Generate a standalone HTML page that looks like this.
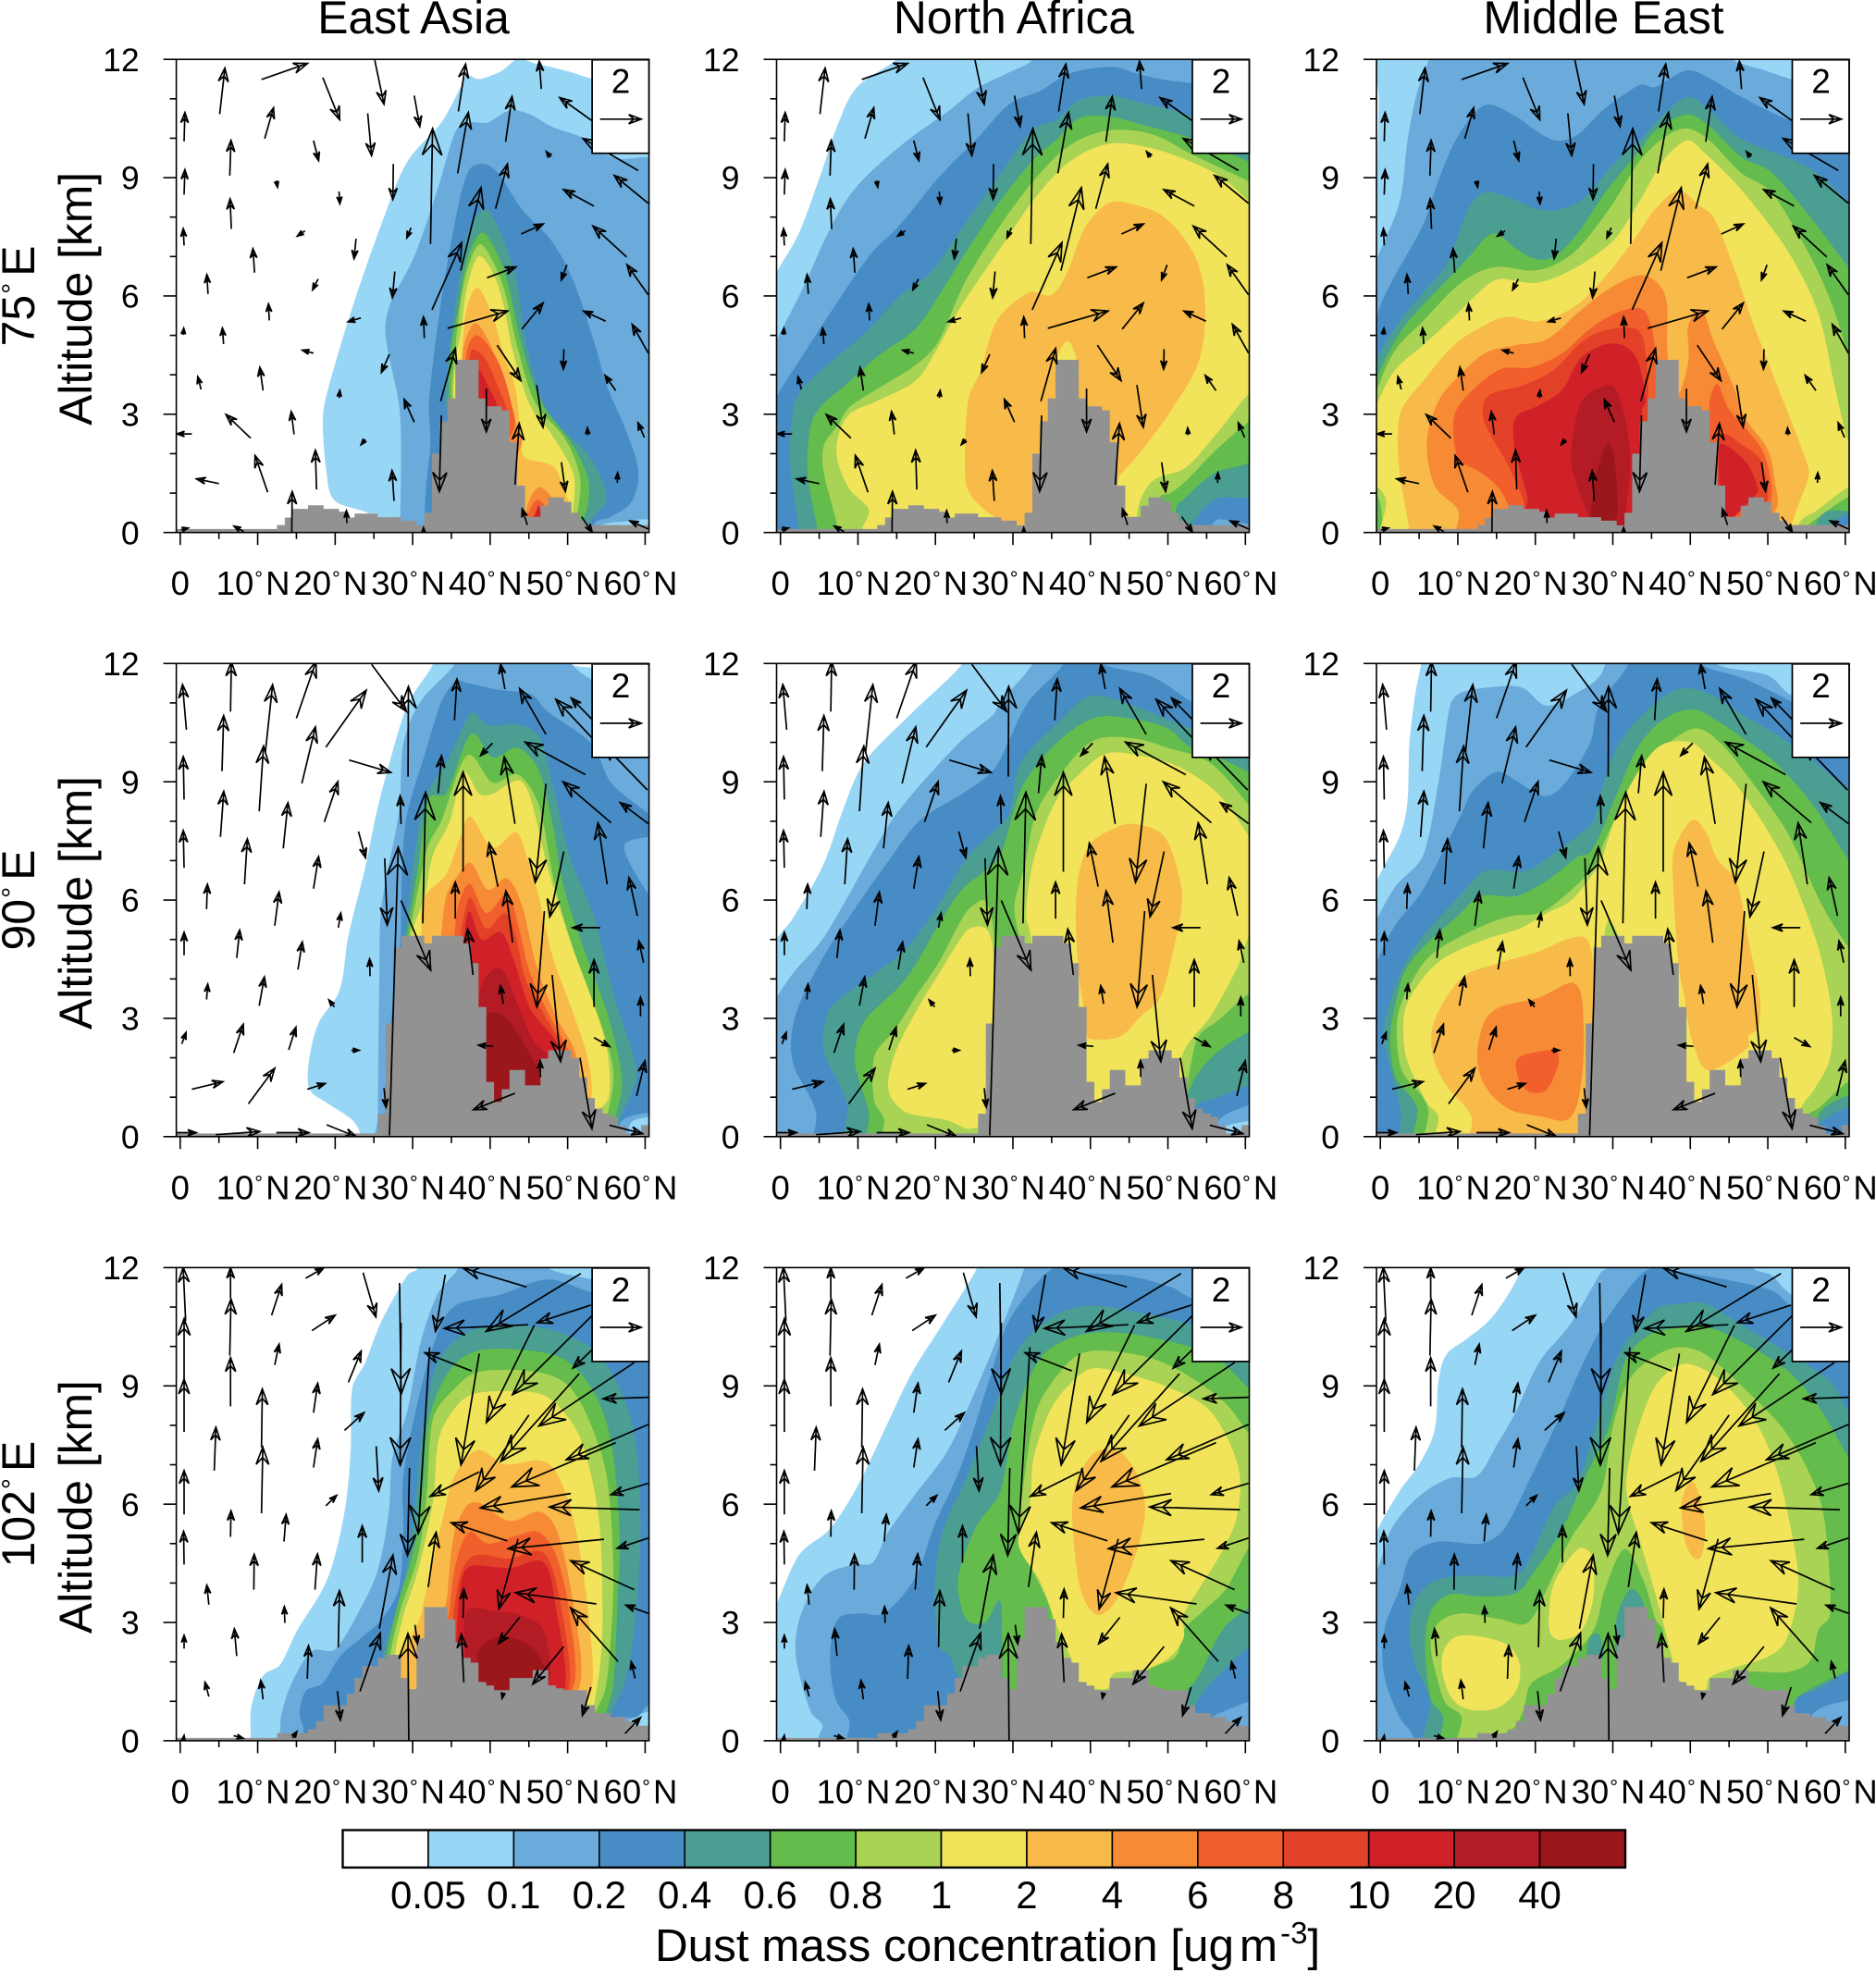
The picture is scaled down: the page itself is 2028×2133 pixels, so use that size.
<!DOCTYPE html>
<html lang="en">
<head>
<meta charset="utf-8">
<title>Dust mass concentration cross sections</title>
<style>
html,body{margin:0;padding:0;background:#fff;}
svg{display:block;font-family:"Liberation Sans",sans-serif;fill:#000;}
</style>
</head>
<body>
<svg id="chart" xmlns="http://www.w3.org/2000/svg" width="2028" height="2133" viewBox="0 0 2028 2133"></svg>
<script>
/* ---------- axis values ---------- */
const latTicks = [0,10,20,30,40,50,60];
const latMinorTicks = [5,15,25,35,45,55];
const latTickLabels = ['0','10°N','20°N','30°N','40°N','50°N','60°N'];
const altTicks = [0,3,6,9,12];
const altMinorTicks = [1,2,4,5,7,8,10,11];
const altTickLabels = ['0','3','6','9','12'];
const regionNames = ['East Asia','North Africa','Middle East'];
const sectionNames = ['75°E','90°E','102°E'];
const legendLabels = ['0.05','0.1','0.2','0.4','0.6','0.8','1','2','4','6','8','10','20','40'];
const legendColors = ['#ffffff','#98d6f5','#6aabdc','#488cc5','#4a9e92','#64bc4c','#a9d354','#f1e45a','#f8ba48','#f68a35','#f15f2c','#e34127','#d02128','#b41c25','#9c171c'];
const referenceWind = 2;

/* ---------- terrain height [km] per 1 degree latitude, 0..60 N ---------- */
const terrain75 = [.09,.09,.09,.09,.09,.09,.09,.09,.09,.09,.09,.09,.09,.19,.38,.6,.6,.69,.69,.6,.6,.53,.38,.48,.48,.48,.39,.39,.39,.3,.3,.18,.5,2,2.82,3.4,4.38,4.38,4.38,3.4,3.2,3.2,3.1,2.29,1.19,.4,.4,.68,.89,.89,.78,.5,.3,.19,.19,.19,.19,.19,.19,.19,.19];
const terrain90 = [.08,.08,.08,.08,.08,.08,.08,.08,.08,.08,.08,.08,.08,.08,.08,.08,.08,.08,.08,.08,.08,.08,.08,.08,.08,.08,.58,2.87,4.8,5.09,5.09,5.09,4.9,5.09,5.09,5.09,5.09,4.9,4.4,3.29,1.39,.88,1.2,1.69,1.69,1.3,1.3,1.98,2.19,2.19,2.19,1.99,1.5,.98,.71,.59,.5,.27,.08,.08,.29];
const terrain102 = [.07,.07,.07,.07,.07,.07,.07,.07,.07,.07,.07,.07,.07,.19,.19,.19,.19,.29,.5,.9,.9,.9,1.19,1.59,1.89,1.89,2.1,2.18,2.18,1.59,1.31,2.6,3.39,3.39,3.39,3.08,2.5,2.1,1.98,1.49,1.4,1.28,1.28,1.59,1.59,1.59,1.79,1.79,1.4,1.33,1.28,1.28,1.28,.9,.7,.7,.6,.6,.5,.38,.38];

/* ---------- wind vectors: tail latitude, tail altitude, u, w ---------- */
const wind75Lat = [.5,.5,.5,.4,2.7,1.5,5,.1,5.1,6.4,6.6,3.6,5.6,10.7,9.1,11.3,8.2,10.5,10.9,12.4,9.6,11.5,17.2,14.7,17.6,14.4,18.4,17.2,20.5,16.1,17.8,23.3,20.5,23.9,21.5,25.1,30.2,24.2,27.5,22.7,29.8,27.7,27,30.2,27.6,32.3,35.9,35.8,36.2,32.5,31.5,33.6,33.7,31.4,46.6,42,40.7,39.6,34.5,40.9,39.5,43.2,44.8,44,44.1,46,49.2,53.1,59.1,53.4,47.8,49.5,49.9,57.6,54.9,56.2,52.6,56.4,51.8,60.4,60.4,60.4,59.9,60.4];
const wind75Alt = [9.92,8.57,7.28,5.01,3.63,2.5,1.24,.07,10.61,9.05,7.7,6.05,4.78,3.6,2.39,1.02,.02,11.49,9.99,8.93,6.59,5.38,4.55,2.49,1.09,0,11.54,9.94,8.65,7.65,6.43,5.44,3.41,2.36,.24,11.98,11.08,10.63,9.35,7.45,7.73,6.62,4.52,2.8,.8,7.32,10.68,9.11,6.64,5.65,4.93,3.33,2.97,.02,11.25,9.91,8.21,6.46,5.18,4.75,3.65,1.21,.19,7.57,5.16,3.74,1.78,10.45,9.18,8.28,9.52,4.65,6.79,6.99,5.36,3.6,2.47,1.26,.4,8.35,6.03,4.55,2.41,.09];
const wind75U = [.04,.04,-.04,.02,-.16,-.72,-1.09,.35,.25,.06,-.06,-.06,-.06,-.16,-1.2,-.62,-.47,2.23,.43,.06,-.08,-.04,-.54,-.14,-.06,.02,.82,.25,.04,-.37,-.27,-.62,.04,-.21,-.02,.45,.27,.19,-.02,-.1,-.21,-.12,-.39,-.49,-.1,.1,.35,.52,.99,1.44,-.04,.72,-.1,0,-.1,.31,.58,1.4,2.93,1.15,0,.21,-.25,1.07,1.03,.31,.19,-1.55,-2.68,-1.48,-.21,-.02,-.27,-1.63,-1.07,-.52,-.02,.02,.52,-1.65,-1.03,-.78,-.31,-.89];
const wind75W = [1.4,1.21,.82,.33,.62,0,.23,.08,2.24,1.72,1.46,.94,.78,1.13,1.15,1.79,.27,.78,1.5,-.33,1.17,.8,.14,1.11,1.91,1.99,-2.05,-.97,-.6,-.25,-.53,-.18,.37,-.25,.6,-2.14,-1.5,-2.05,-1.73,-.97,-.49,-1.27,-.88,1.11,1.48,5.61,2.3,2.96,4.04,3.26,1.03,2.57,-3.7,.2,1.35,2.2,2.18,.53,.84,-1.72,-2.1,2.98,.78,.49,1.27,-2.05,-1.42,1.11,1.56,.8,.27,-.97,-.74,1.5,.49,.74,.35,.49,-.76,1.35,1.46,1.4,.72,.39];

const wind90Lat = [.8,.5,.5,.5,.2,-.5,6.5,5.4,5.2,3.4,7.3,3.4,6.9,1.5,4.6,11,10.2,8.3,10.2,8.8,12.4,15,15.7,13.3,12.2,15.2,14,16.4,18.8,18.6,17.2,20.4,19.9,22.1,18.9,21.8,23,24.5,24.7,29.4,28.5,26.4,28.5,27,26.3,31.3,33.3,35.4,36.5,35.5,37.8,40.3,43.2,41,42.9,41.7,40.4,43.2,47.2,41.9,47.2,49.5,47,46.5,48,52.3,55.6,54.2,55.1,53.4,53.4,51.6,53.1,54.5,60.3,60.4,59,59.8,59.4,58.9,55.4];
const wind90Alt = [10.32,8.55,6.82,4.6,2.35,.1,10.78,9.27,7.6,5.77,4.53,3.48,2.12,1.2,.05,9.76,8.25,6.4,3.32,.83,.1,10.61,8.96,7.31,5.35,4.24,2.2,1.2,9.88,7.98,6.29,5.3,3.29,2.19,.3,9.55,7.74,4.07,11.98,9.13,7.93,7.06,5.99,.03,1.23,5.41,8.71,10.56,6.72,5.53,4.1,9.98,7.93,6.34,4.92,3.37,2.29,1.1,10.2,11.35,8.95,7.23,5.72,1.51,4.1,9.18,7.96,5.3,6.4,3.29,2.51,2,10.59,9.83,8.79,7.94,5.6,4.41,3.05,1.03,.29];
const wind90U = [-.19,-.04,-.04,0,.21,.97,.04,.08,.16,.04,.14,.06,.47,1.51,2.14,.35,.21,.14,.25,1.28,1.59,.95,.66,.23,.21,.21,.35,.87,1.96,.66,.25,.12,-.27,.37,1.44,2.02,.35,-.02,1.69,.02,-.04,.12,1.44,.43,.1,.14,.16,.12,0,0,-.27,-.58,-.52,-.43,-.33,-.14,-.72,-2.02,-1.28,-.21,-.52,-.68,-.37,-.02,.41,-2.93,-2.33,-1.34,-.45,0,.76,.58,-.99,-2.27,-2.16,-1.36,-.41,-.23,0,.41,1.61];
const wind90W = [2.2,2.09,1.81,1.12,.56,0,2.42,2.7,2.22,1.21,1.36,.74,1.4,.37,.15,3.26,3.17,2.2,1.4,1.73,0,2.76,2.74,2.22,1.64,1.34,1.1,.28,2.76,1.96,1.56,.71,.34,0,-.58,-.6,-1.28,.84,-2.29,4.38,1.36,-3.24,-3.39,14,-.93,6.37,1.82,2.01,4.84,1.77,2.23,-.6,3.26,2.12,2.51,.88,.06,-.8,2.23,1.21,-4.79,-3.17,-4.66,.8,-4.21,1.58,1.99,0,2.98,2.29,-.43,-3.45,1.02,2.42,2.23,1.02,1.86,1.06,.93,1.71,-.41];

const wind102Lat = [.5,.5,.7,.5,.5,.5,.4,3.7,3.7,4.4,6.5,6.4,6.5,6.5,7.3,6.9,10.5,10.5,9.5,10.7,11.8,12.2,13.4,13.5,14.5,16.2,17,17.2,17.2,17.4,16.4,21.2,18.8,20.4,20.3,21.7,23.5,23.6,25.3,25.7,23.2,28.3,28.5,29.6,29.5,30.3,34.2,32.2,37.6,32,44.9,38.6,38.6,36.5,36.6,44.7,51.7,45.7,45,53.2,51.5,50.4,42.2,43.8,43.6,41.7,49.5,53,58.6,56.2,60.4,59.3,54.7,58.6,53.7,56.5,53,60.4,60.4,60.4,60.4,58.7,57.4,54.5];
const wind102Alt = [7.83,9.12,10.65,5.74,4.47,2.34,0,3.45,1.12,6.85,8.48,9.77,11.22,5.17,2.15,.13,5.77,7.44,3.83,1.05,10.79,9.53,5.05,2.99,.07,11.73,10.4,8.32,6.93,3.83,1.57,7.87,5.96,2.37,1.26,9.09,4.52,11.87,7.47,2.84,1.25,11.61,10.6,6.92,0,2.94,11.82,9.98,9.38,3.9,10.55,9.82,6.82,3.11,1.48,11.51,11.85,10.54,8.26,10.79,9.31,6.27,5.07,3.13,5.12,1.22,2.39,11.05,9.59,7.56,8.02,5.86,5.11,3.83,3.47,2.01,1.36,8.71,6.53,5.14,3.23,1.58,.18,10.17];
const wind102U = [0,0,-.12,0,-.02,0,.04,-.1,-.19,.08,0,.06,0,.02,-.12,.47,.06,.04,.02,-.12,.49,.21,.1,-.02,.21,.87,1.13,.21,.21,.12,.06,.95,.52,.06,.14,.62,0,.62,.12,.66,.99,.08,-.04,-.1,-.04,.12,-.47,-.56,-2.27,.39,-4.08,-.89,-2.39,.04,-.12,-3.09,-4.6,-2.33,-2.58,-3.88,-3.81,-4.39,-2.72,-1.03,-.93,-.06,-1.51,-2.62,-4.64,-5.05,-3.98,-4.39,-4.66,-3.09,-3.92,-2.31,-.41,-2.19,-1.81,-1.51,-1.09,-.19,.76,-1.44];
const wind102W = [2.57,3.03,2.6,2.13,1.61,.64,.26,.95,.7,2.11,2.37,2.75,1.49,1.27,1.32,-.13,3.21,2.84,1.72,.92,1.5,1.01,1.32,.79,.31,.5,.75,1.43,1.39,1.74,1.61,.86,.5,2.75,-1.41,1.52,1.78,-2.15,-2.17,3.58,2.84,-5.41,-6.92,-4.26,5.21,-.92,-2.75,-9.05,.88,2.66,-.18,-5.41,-1.19,1.41,2.35,.92,-2.81,-4.73,-3.67,-3.85,-4.26,-.7,.88,-1.28,-3.41,-.28,-1.83,-.86,-3.08,-2.15,-1.71,.13,-.46,1.41,.55,2.61,-1.38,-.07,-.55,-.5,.4,.81,.79,-1.38];

/* ---------- filled concentration regions: [band index, [[lat,alt],...]] ---------- */
const contoursEastAsia75 = [
[1,[[25.5,.3],[20,.8],[18.9,1.5],[18.4,2.8],[18.9,3.5],[22.2,5.7],[26.3,8],[29.3,9.4],[33.7,10.4],[36.2,11.3],[37,11.6],[38.6,11.5],[41.4,11.7],[43.5,12],[45.8,11.9],[50,11.7],[53.4,11.5],[62,11.2],[62,-1],[25.5,-1]]],
[2,[[28.2,-1],[28.4,.4],[28.5,2.3],[28.2,3.3],[26.5,5],[27.1,5.8],[30.2,7],[33.2,8.7],[35.6,10.2],[37.5,10.4],[39.7,10.4],[42.5,10.7],[45.2,10.6],[47.9,10.3],[52.1,10],[56,9.5],[62,9.3],[62,.55],[58,.3],[54,.1],[54,-1]]],
[3,[[31.5,-1],[31.5,.3],[31.8,1.3],[32.3,2.3],[32.1,3.3],[33.7,5.9],[35.9,8.3],[37.3,9.2],[39.2,9.35],[41.1,9.1],[44.1,8.2],[47.9,7.4],[50.7,6.4],[53.4,4.85],[55.1,3.7],[57.3,2.7],[59.1,1.6],[58.3,.8],[55.6,.4],[53.4,.2],[53.4,-1]]],
[4,[[34.5,3],[34.8,4.65],[35.6,5.9],[37,7.5],[39.2,8.2],[41.1,7.7],[43.3,6.5],[44.7,4.75],[47.4,3.1],[52.9,1.9],[55,.9],[53.4,.4],[51.8,.1],[40,0]]],
[5,[[35,3],[34.9,4.55],[35.8,5.6],[37,6.9],[38.8,7.6],[40.6,7.2],[42.2,6.4],[44.1,4.75],[46.6,3.3],[50.4,2.3],[52.6,1.4],[52.6,.7],[51.5,.3],[40,0]]],
[6,[[35.3,3],[35.5,4.65],[36.7,6.4],[38.5,7.3],[40.3,6.9],[41.9,6.1],[43.6,4.65],[45.8,3.3],[49.6,2.4],[51.5,1.5],[51.5,.8],[50.7,.4],[40,0]]],
[7,[[35.5,3],[35.6,4.45],[36.2,5.05],[37,6.2],[38.5,7],[40.3,6.6],[41.7,5.8],[43,4.55],[45.2,3.2],[47.9,2.5],[50.7,1.5],[50.7,.6],[50,.2],[40,0]]],
[8,[[36,3],[36.4,4.65],[37,5.7],[38.4,6.2],[40.3,5.5],[41.7,4.55],[43.3,3.6],[44,2.3],[44.5,1.9],[47.4,1.75],[48.5,1.6],[49.9,.9],[50.4,.5],[50,.1],[40,0]]],
[9,[[37,3.5],[36.5,4.6],[38,5.3],[39.8,4.85],[42,3.7],[43.3,2.8],[44,2.2],[40,1]]],
[9,[[44.6,.3],[45,.8],[46.3,1.15],[47.9,.9],[49,.4],[46,.2]]],
[10,[[37,3.5],[37,4.6],[38.4,5],[41,4.35],[42.7,3.3],[43,2.6],[40,2]]],
[10,[[44.8,.3],[45.8,.8],[47,.7],[47.2,.3]]],
[11,[[37.5,3.5],[37.5,4.6],[39.2,4.45],[41,3.7],[42.2,2.9],[40,2]]],
[11,[[45.8,.35],[46,.6],[46.6,.6],[46.8,.3]]],
[12,[[38.5,3.3],[38.5,4.1],[39.8,3.7],[41,3.1],[40,2.5]]],
[12,[[45.6,.35],[45.9,.5],[46.3,.7],[46.5,.3]]]
];
const contoursNorthAfrica75 = [
[1,[[-2,5.9],[-.5,6.6],[2.4,7.6],[5.4,9.2],[7.4,10.35],[9.9,11.3],[14.9,12],[16,12.6],[62,12.6],[62,-1],[-2,-1]]],
[2,[[-2,4],[-.5,4.85],[2.9,6.2],[5.9,7.5],[8.4,8.4],[11.4,9.1],[16.4,9.95],[21.4,10.65],[25.4,11.27],[29.5,11.67],[32.5,12],[33,12.6],[62,12.6],[62,-1],[-2,-1]]],
[3,[[-2,2.5],[-.5,3.43],[2.4,4.35],[5.4,5.26],[11.4,7],[15.4,7.8],[20.4,9],[25.4,10],[29.5,10.86],[33.5,11.2],[37,11.62],[40.5,11.78],[43.5,11.8],[45.5,11.67],[49,11.5],[53,11.4],[62,11.2],[62,.4],[56.5,.33],[55.5,.1],[55,-1],[-2,-1]]],
[4,[[2.4,-1],[2.4,0],[1.3,1.6],[1.4,2.8],[2.4,3.53],[5.4,4.14],[7.9,4.55],[11.4,5.16],[15.4,6],[19.4,6.6],[24.4,8],[28.4,9.1],[32.7,10.25],[35.5,10.45],[38.5,10.96],[42.5,11.08],[46.5,10.9],[53,10.55],[60.5,9.7],[62,9.6],[62,1.1],[56.5,.88],[54.5,.58],[53,.1],[53,-1]]],
[5,[[4.8,-1],[4.8,0],[3.5,1.5],[3.9,2.72],[5.4,3.23],[8.4,3.74],[12.4,4.45],[17.4,5.16],[20.4,6],[23.9,7.1],[28.4,8.42],[33,9.54],[35.5,9.94],[38.5,10.5],[42.5,10.55],[46.5,10.35],[53,10],[60.5,9.4],[62,9.2],[62,2.1],[55.9,1.5],[52.6,.94],[51,.58],[51,-1]]],
[6,[[7.5,-1],[7.5,0],[5.6,1.5],[5.6,2.2],[7.4,2.72],[8.9,3.18],[12.4,3.63],[17.4,4.24],[20.4,4.85],[23.9,6.38],[28.4,7.8],[33,9],[37.5,9.84],[42.5,10.2],[48,10.1],[53,9.6],[60.5,8.9],[62,8.7],[62,2.9],[60.5,2.82],[56,2.05],[52.3,1.3],[50.3,1],[49,.9],[49,-1]]],
[7,[[10.4,-1],[10.4,0],[11.4,.58],[8.9,1.1],[7.4,1.8],[7.4,2.4],[8.9,3],[12.4,3.33],[17.4,3.84],[19.9,4.55],[23.4,5.77],[28,7.1],[33,8.52],[37.5,9.43],[42.5,9.86],[48,9.74],[53,9.4],[57,9],[60.5,8.4],[62,8.2],[62,3.5],[60.5,3.53],[56.5,2.56],[52.3,1.65],[48.3,1.35],[46.5,.85],[46,.3],[46,-1]]],
[8,[[27.4,.43],[24.4,1],[23.8,1.6],[24.2,3.33],[25.9,4.14],[27.9,5.36],[32,6.08],[35,6.03],[37,6.59],[39.2,7.7],[42,8.32],[44.5,8.37],[49.5,8],[53.5,7],[54.8,5.77],[54,4.35],[50.5,3.12],[46.3,2],[44,1.5],[43,1.2],[37,.5],[32,.1]]],
[7,[[35.5,4],[36,4.6],[37.2,4.85],[38.2,4.4],[38.5,4],[37,3.5]]]
];
const contoursMiddleEast75 = [
[1,[[0,12.6],[-.2,11],[-.4,9],[-.5,6],[-2,-1],[62,-1],[62,12.6]]],
[2,[[-2,6],[-.3,7],[2.5,8.4],[3.5,9.94],[4.75,11.17],[6.25,12],[7,12.6],[44,12.6],[45.5,12],[49.5,11.73],[53,11.5],[62,11],[62,-1],[-2,-1]]],
[3,[[-2,4],[-.3,5.57],[1.5,6.38],[5.5,7.8],[7.5,8.93],[10,10.05],[13.5,10.84],[17.5,10.55],[20,10.2],[22.75,9.94],[25.5,10.1],[29,10.76],[33.5,11.35],[35.5,11.3],[39.5,11.72],[42.5,11.52],[46.5,11.06],[53,10.45],[62,10],[62,-1],[-2,-1]]],
[4,[[-2,3.5],[-.3,4.45],[2.5,5.36],[5.5,6.08],[8.5,6.79],[10.5,7.8],[12,8.42],[14,8.64],[17.5,8.42],[20.5,8.19],[23.5,8.21],[26.5,8.52],[30.5,9.44],[33.5,9.94],[35.5,10.4],[39.5,11.03],[42.5,10.71],[46.5,10],[55.5,9.23],[60.4,8.37],[62,8.1],[62,.55],[60.5,.5],[58.5,.2],[57,-1],[-2,-1]]],
[5,[[-2,3],[-.3,4],[2.5,5.06],[5.5,5.77],[9,6.48],[11.5,7],[14.5,7.58],[17.5,7.2],[20,6.94],[22.5,7],[25.5,7.6],[29,8.62],[31.5,9.23],[33.5,9.69],[35.5,10.2],[39.5,10.6],[42.5,10.3],[46.5,9.54],[50.5,9.13],[55.5,8],[60.4,6.74],[62,6.5],[62,.73],[57.5,.53],[56,.1],[55,-1],[-2,-1]]],
[6,[[-2,2.5],[-.3,3.68],[2,4.65],[5.5,5.36],[9.5,6.18],[12.5,6.59],[15.5,6.74],[19.5,6.64],[22.5,6.79],[25.5,7.2],[29.5,8.2],[33.5,9.43],[36.5,10],[39.5,10.25],[42.5,9.94],[46.5,9.13],[50.5,8.62],[55.5,7],[58.5,5.67],[60.4,4.45],[62,3.5],[62,.8],[60.4,.89],[56.5,.38],[55,.1],[54,-1],[.3,-1],[.3,.2],[-.3,.9],[-2,.9]]],
[7,[[-2,2.4],[-.3,3.33],[2,4.14],[5.5,4.75],[9.5,5.47],[13.5,6.23],[15.5,6.43],[20,6.33],[24,6.59],[27.5,7],[30.5,7.5],[33.5,8.42],[36.5,9.43],[39.5,9.94],[41.5,9.69],[45.5,8.93],[49,8.11],[53,7],[56.5,5.57],[58.5,3.84],[60.4,2.3],[62,2.1],[62,1],[60.4,1.14],[56.5,.58],[54,.2],[54,-1],[.75,-1],[.75,.78],[-.3,1.14],[-2,1.2]]],
[8,[[3.75,-1],[3.75,0],[2.5,1.5],[2.25,2.31],[2.75,3.12],[5.5,3.84],[9.5,4.75],[13.5,5.26],[16.5,5.47],[20.5,5.36],[25,5.72],[29,6.48],[33,7.5],[35.5,8.21],[38.5,8.67],[41,8.32],[43,8],[45.5,6.79],[48,5.36],[51,3.84],[55,1.8],[55.25,1.4],[53,.1],[53,-1]]],
[9,[[9.75,-1],[9.75,0],[10,.58],[7,1.19],[6,2.31],[7.5,3.33],[10,3.94],[13.5,4.55],[17.5,4.75],[21.5,4.9],[25.5,5.57],[29.5,6.18],[33.5,6.53],[36,6.28],[37,5.77],[37,4.75],[37.5,3.8],[38.5,3.5],[39.75,4.35],[39.75,5.26],[41.5,5.62],[43,4.85],[45.5,3.74],[47,2.92],[50,2.1],[51,1.19],[51.25,.68],[50,.2],[50,-1]]],
[10,[[16.5,.3],[16.5,.68],[15,1.19],[12.75,1.55],[10,1.9],[9.5,2.92],[11.5,3.53],[15.5,4.14],[19.5,4.19],[23.5,4.55],[27,5.16],[30.5,5.57],[33.5,5.69],[34.75,5.36],[35.5,4.55],[35.5,2.5],[33,.2]]],
[10,[[43,1],[42.5,2.3],[42.5,3.33],[43.5,3.76],[45,3.12],[47.5,2.56],[49.5,2],[50.5,1.09],[49.75,.6],[46,.3]]],
[11,[[18.5,.3],[18.5,.78],[16.5,1.7],[14.75,2.3],[13.25,2.92],[14,3.48],[18.5,3.74],[22.5,4.14],[25.5,4.75],[28.5,5.1],[33,5.16],[34.25,4.55],[34.5,3],[33,.3]]],
[11,[[43.4,1],[43.4,2.2],[44.5,2.5],[46.5,2.25],[49,1.85],[50,1],[49,.5]]],
[12,[[19,.3],[19,.88],[18,1.6],[17.25,2.2],[17.5,2.92],[20.5,3.23],[23.5,3.63],[26,4.45],[30,4.8],[33,4.45],[34.25,3.33],[33.75,3.1],[33,.3]]],
[12,[[44,.5],[43.75,2.2],[45.5,2.1],[47.5,1.7],[48.75,1.09],[48,.88],[45,.3]]],
[13,[[27,.38],[24.75,1.6],[24.75,2.31],[26,3.33],[29.5,3.74],[31,3.33],[32.25,2],[31.75,.68],[31.5,.2],[29,.1]]],
[14,[[27.25,.4],[27.5,1],[28,1.6],[29.25,2.26],[30,2.06],[30.5,1.29],[30.5,.38],[29,.1]]]
];
const contoursEastAsia90 = [
[1,[[23.3,-1],[23.3,0],[22.2,.42],[18.9,.86],[16.7,1.2],[16.6,1.88],[17.8,2.85],[20.6,3.73],[21.7,5.09],[23.9,6.84],[25.2,8.1],[26.6,9.18],[29.3,10.93],[32.6,11.98],[33,12.6],[50,12.6],[50,12],[62,11.2],[62,-1]]],
[2,[[25.5,-1],[25.5,.52],[25.7,4.12],[26,5.87],[28.2,8.2],[28.8,9.96],[31,11.03],[35.4,11.98],[36,12.6],[50,12.6],[50.5,12],[54,11.5],[62,11],[62,.5],[60.4,.5],[58,.3],[57,-1]]],
[3,[[28.5,-1],[28.5,5.38],[28.7,7.04],[29.3,8.2],[31.5,9.66],[33.7,11.03],[35.6,11.56],[37,11.51],[40.8,11.34],[45.2,11.22],[47.4,10.78],[53.1,9.96],[55.6,8.98],[60.4,8.2],[62,8],[62,7.6],[60.4,7.6],[57.3,7.33],[60.4,6.16],[62,6],[62,.6],[60.4,.61],[56.7,.32],[56,-1]]],
[4,[[29,4],[29.1,5.09],[30.2,7.04],[31.5,8.5],[34.8,9.66],[37.5,10.73],[39.7,10.44],[43.6,10.44],[46.3,10.15],[48,8.98],[50.4,7.04],[53.4,5.58],[55.9,3.63],[58.3,2.17],[58.9,1.49],[56.7,.42],[55,-.5],[40,-.5]]],
[5,[[29,4],[29.3,5.09],[30.7,6.84],[32.1,8.6],[34.3,8.69],[37.5,10.2],[40.3,9.62],[43.6,9.86],[46.3,9.28],[48,8],[49.6,6.26],[52.9,4.31],[55.1,3.14],[57,1.49],[56.2,.5],[55,-.5],[40,-.5]]],
[6,[[29.4,4],[29.6,5.09],[31,6.55],[32.1,7.43],[33.7,8],[37,9.66],[40.3,8.98],[43.6,9.18],[46.3,8.4],[48.5,6.26],[51.8,4.12],[54.5,2.75],[55.9,1.59],[55.1,.5],[54,-.5],[40,-.5]]],
[7,[[29.7,4],[29.9,5.14],[31.5,6.06],[32.6,7.13],[34.8,8],[36.5,9.23],[38.6,8.69],[40.3,8.69],[43.6,9.04],[45.2,8.59],[47.4,6.84],[50.1,5.09],[53.4,3.34],[55.1,2.17],[55.3,1],[53.4,.5],[53,-.5],[40,-.5]]],
[8,[[31,4],[31.1,5.14],[31.5,6.06],[34.3,6.65],[36.2,7.62],[37.5,8.11],[40.3,7.33],[43.3,7.72],[44.7,7.13],[46.3,6.06],[48,4.6],[50.7,3.14],[52.6,1.98],[53.1,1],[52,-.5],[40,-.5]]],
[9,[[33.5,4],[33.7,5.09],[34.3,6.06],[35.6,6.55],[37.5,6.94],[39.7,6.26],[42.2,6.55],[44.1,5.87],[46,4.31],[48.5,3.05],[50.7,2.27],[51.5,1.49],[50,.5],[40,.5]]],
[10,[[35,4],[35.4,5.09],[35.9,5.87],[37.4,6.4],[39.5,5.67],[42.2,6.16],[43.6,5.38],[45.2,4.12],[48,2.95],[49.9,2.27],[50.4,1.98],[49,1],[40,.5]]],
[11,[[36,4],[36.2,5.09],[36.5,5.48],[37.5,6.06],[39.5,5.28],[41.9,5.67],[43.3,5.09],[44.7,3.92],[48,2.75],[49.3,2.17],[48,1],[40,.5]]],
[12,[[36.5,4],[36.6,4.9],[37.3,5.72],[38.9,5],[41.4,5.19],[43,4.51],[45.2,3.24],[48,2.56],[48.9,2.17],[48,1],[40,.5]]],
[13,[[38.6,3],[39,3.9],[41.4,4.26],[43.6,3.34],[45.5,2.46],[47.4,1.98],[46,1],[41,.5]]],
[14,[[39.4,1],[39.5,3.05],[41.6,3.1],[43.5,2.66],[45.4,1.98],[46.5,1.6],[46,1],[41,.5]]]
];
const contoursNorthAfrica90 = [
[1,[[-2,4],[-.5,5],[1.4,5.48],[5.4,6.84],[7.9,8.2],[9.9,9.18],[11.9,9.76],[17.4,10.83],[23.4,11.98],[24,12.6],[62,12.6],[62,-1],[-2,-1]]],
[2,[[-2,3],[-.5,3.53],[1.9,4.21],[5.4,5],[8.9,6.16],[11.4,7.04],[15.4,8.3],[22.9,9.96],[27.4,10.69],[28.4,11.03],[32.5,11.98],[33,12.6],[62,12.6],[62,.4],[60.5,.4],[57.5,.27],[56.5,.1],[56,-1],[-2,-1]]],
[3,[[4.6,-1],[4.6,.6],[1.6,1.88],[1.9,3.05],[5.4,4.51],[9.9,5.87],[13.4,6.84],[17.9,8],[23.4,8.69],[27.4,9.28],[29.5,10.05],[32,11.03],[36.5,11.98],[37,12.6],[41,12.6],[41.5,12],[48,11.66],[53,11.03],[62,10],[62,.8],[60.5,.8],[57,.5],[56,.1],[56,-1]]],
[4,[[8.8,-1],[8.6,.8],[5.6,2.17],[6.1,3.14],[7.9,3.53],[13.4,4.31],[16.4,4.8],[20.4,5.87],[23.9,7.04],[27.4,7.72],[29.5,8.2],[31,9.47],[35.5,10.44],[40,11.17],[45.5,10.93],[53,10.35],[62,9.8],[62,1.2],[60.5,1.29],[56.5,1],[53.5,.71],[53,-1]]],
[5,[[11.1,-1],[11.1,0],[11.4,.6],[9.9,1.59],[9.6,2.17],[10.9,2.95],[15.4,3.82],[17.9,4.51],[20.4,5.38],[23.4,6.26],[26.4,6.74],[28.4,7.13],[30,8.2],[31.5,8.98],[35.5,9.96],[40.5,10.62],[45.5,10.59],[50,10.35],[53,9.86],[57,9.57],[60.5,9.23],[62,9],[62,2.6],[60.5,2.66],[55.5,1.98],[52.5,1],[52,-1]]],
[6,[[13.4,-.5],[13.4,.42],[12.1,.9],[11.9,1.68],[12.4,2.17],[14.9,2.75],[17.4,3.53],[20.4,4.41],[23.9,5.67],[26.2,6],[27.2,5.6],[27.6,5],[28,4],[27,.5],[27,-.5]]],
[6,[[32.5,4.5],[31,5],[30.2,5.87],[31.5,6.84],[33,8.2],[36.5,9.28],[40.5,10.05],[45.5,10.1],[50,9.86],[55.5,9.47],[60.5,8.4],[62,8],[62,3.5],[60.5,3.63],[56.5,2.95],[54,2.56],[53,1.87],[52.5,1.2],[52,-.5],[40,-.5]]],
[7,[[24.5,.2],[21.4,.42],[16.4,.6],[14.4,.95],[13.9,1.39],[14.9,2.17],[17.4,3.14],[20.4,4.12],[23.9,5.2],[25.4,5.33],[26.7,5.24],[27.4,4.8],[28,3],[27,.5]]],
[7,[[33,4],[32.3,5.09],[31.7,5.67],[32.7,7.04],[35.5,8.5],[38.5,9.18],[42,9.71],[46.5,9.66],[51.5,9.37],[56.5,8.69],[60.5,7.62],[62,7.3],[62,5],[60.5,5.09],[59,4.31],[55.5,3.05],[53,2.46],[51.8,1.98],[51.8,-.5],[38,-.5]]],
[8,[[39.1,3.29],[38.5,4.12],[38.1,5.58],[38.5,6.65],[40,7.43],[43,7.81],[45.5,7.93],[49.5,7.62],[51.5,6.55],[51.8,5.87],[50.8,4.8],[49,3.53],[46.5,3.05],[44,2.56],[41,2.46],[39.5,2.56]]]
];
const contoursMiddleEast90 = [
[1,[[-2,5.5],[-.3,6.55],[2.5,7.62],[3.5,8.5],[3.75,9.96],[4.5,11.22],[5.25,11.98],[5.5,12.6],[62,12.6],[62,-1],[-2,-1]]],
[2,[[-2,5],[-.3,5.58],[2,6.36],[5.5,7.13],[7.5,8.98],[9,10.93],[10.5,11.27],[15.5,11.42],[18.5,11.37],[21.5,10.93],[25.5,11.27],[28,11.61],[29,11.98],[29.3,12.6],[43,12.6],[43.5,11.98],[50,11.7],[53,11.2],[62,10.5],[62,-1],[-2,-1]]],
[3,[[-2,3.5],[-.3,4.51],[2,5.38],[5.5,6.26],[10.5,8.2],[12,8.79],[15,9.25],[17.5,9.03],[21,8.64],[23.5,8.89],[27,9.96],[28.25,10.93],[32,11.98],[32.3,12.6],[41,12.6],[41.5,11.98],[47,11.61],[53,11.03],[62,10],[62,-1],[-2,-1]]],
[4,[[2.5,-1],[2.5,0],[2.6,.71],[.5,2.36],[.75,3.05],[2.5,4.12],[5.5,5.09],[10,6.06],[13.5,6.73],[18.5,6.73],[22,7.13],[26,7.72],[27.5,8.01],[28.5,8.79],[30.5,9.86],[33.5,10.64],[38,11.32],[42,11.27],[46.5,10.73],[53,9.96],[60.4,8.79],[62,8.6],[62,.7],[60.4,.75],[57,.4],[56.5,.1],[56,-1]]],
[5,[[4.75,-1],[4.75,.71],[2,1.49],[1.25,2.36],[1.5,2.95],[3,4.12],[5.5,4.8],[10,5.6],[13,6.1],[17.5,6.1],[21.5,6.5],[25.5,7.1],[27,7.2],[28.5,7.72],[30.5,8.69],[33.5,9.96],[37,10.64],[40.5,10.83],[43.5,10.54],[46.5,10.15],[50.5,9.57],[55.5,8.5],[60.4,7.04],[62,6.8],[62,1],[60.4,1.05],[56.5,.52],[56,-1]]],
[6,[[6.25,-1],[6.15,.71],[3,1.59],[2.25,2.17],[2.25,3.05],[3.75,3.82],[6.5,4.6],[11.5,5.19],[16.5,5.58],[20.5,5.67],[23.5,6.06],[27.5,6.84],[29,7.52],[32,8.69],[36,9.76],[40.5,10.35],[44,9.96],[48,8.98],[52.5,7.72],[57,5.87],[60.4,4.8],[62,4.5],[62,1.3],[60.4,1.39],[56.5,.71],[55.25,.56],[54.75,.2],[54,-1]]],
[7,[[7.5,-.5],[7.5,.5],[6,.86],[3.75,1.78],[3.1,2.27],[3.1,3.14],[4.75,3.82],[8,4.5],[13.5,5],[18,5.28],[21.5,5.67],[24.5,5.97],[27,6.55],[28.5,7],[30,7.9],[32.5,9],[36,9.9],[40,10],[42.5,9.6],[45.5,9.03],[49.5,7.91],[53,6.65],[56.5,4.8],[58.25,3.14],[58,1.98],[56,1.2],[54.5,.81],[53,.2],[53,-.5]]],
[6,[[29,4.9],[29.5,5.5],[31,4.9]]],
[8,[[11.75,-.5],[11.75,.5],[8.5,1.3],[6.75,2.07],[7,2.95],[10.5,4.02],[15.5,4.41],[20.5,4.7],[24,5],[26.5,5.04],[27.4,4.5],[27.75,3.14],[27,.4],[27,-.5]]],
[8,[[39.25,3.53],[38.5,4.31],[37.75,6.55],[38,7.33],[40.25,8.03],[42,7.72],[43.5,7.04],[46,6.45],[47.5,4.99],[49,3.53],[48.75,2.75],[47.5,2.56],[47.5,2.27],[42.5,1.68],[40.5,2.27],[39.5,3.14]]],
[9,[[13.5,2.95],[15.5,3.29],[20.5,3.53],[24.5,3.9],[25.9,3.63],[26.25,2.17],[25.5,.9],[24,.42],[20.5,.52],[16.5,.71],[13.5,1.29],[12.5,2.07]]],
[10,[[17.5,1.88],[18.5,2.07],[22.5,2.19],[23,1.88],[21.5,1.2],[19.5,1.12],[18,1.39]]]
];
const contoursEastAsia102 = [
[1,[[9,-1],[9.1,.07],[9.2,.88],[10.7,1.65],[12.9,1.93],[15.1,2.8],[18.4,3.85],[20,4.71],[21.4,6.05],[22,7.39],[22.2,8.93],[23.9,9.6],[26,10.65],[29.3,11.8],[30.7,12],[31,12.6],[62,12.6],[62,-1]]],
[2,[[13,-1],[12.9,.31],[13.2,.79],[14.6,1.55],[17,2.27],[20,2.32],[23.3,3.37],[25.5,4.33],[26.9,5.77],[27.4,7.2],[29.3,8.35],[31,10.08],[33.2,11.32],[35.9,12],[36,12.6],[47,12.6],[47.4,12],[53.1,11.7],[62,11.3],[62,.6],[60.4,.74],[57.8,.5],[57,.4],[57,-1]]],
[3,[[16,-1],[15.9,.31],[15.4,.69],[16.2,1.26],[18.4,1.46],[20.6,2.13],[23.3,2.6],[26,3.08],[28.2,3.85],[28.8,5.29],[28.8,6.72],[31.3,9.12],[33.7,10.56],[35.9,11.08],[41.4,11.32],[47.4,11.7],[53.1,11.37],[62,10.9],[62,.9],[60.4,.9],[58.9,.6],[55.6,.5],[55,-1]]],
[4,[[26.3,1.5],[26.3,2.27],[27.1,2.8],[28.5,3.56],[29.6,4.8],[30.4,6.24],[31.5,8.16],[33.2,9.6],[35.9,10.22],[38.6,10.46],[45.8,10.5],[50.7,10.22],[54.5,9.69],[58.3,8.06],[59.4,5.57],[58.6,2.8],[57.3,1.45],[55.6,.69],[54,-.5],[30,-.5]]],
[5,[[26.7,1.5],[26.7,2.22],[28.2,3.56],[30.2,4.9],[31.3,6.44],[32.1,8.16],[34.8,9.4],[38.6,9.9],[45.8,9.88],[50.1,9.6],[53.4,8.83],[55.6,7.59],[56.7,5.29],[56.4,3.37],[55.9,1.46],[54.8,.6],[53,-.5],[30,-.5]]],
[6,[[27.1,1.5],[27.1,2.17],[28.5,3.37],[30.7,4.71],[31.8,6.24],[32.6,8.16],[35.4,8.93],[38.6,9.36],[45.8,9.36],[50.1,9],[53.1,7.97],[55.1,6.63],[55.9,4.33],[55.5,2.41],[54.8,1.26],[53.4,.6],[53,-.5],[30,-.5]]],
[7,[[27.7,1.5],[27.7,2.17],[28.8,3.18],[30.7,4.33],[32.6,6.05],[33.4,7.68],[35.9,8.54],[38.6,8.83],[45.8,8.83],[49,8.45],[51.8,7.59],[54,5.67],[54.5,3.37],[54.2,1.93],[53.1,.6],[52,-.5],[30,-.5]]],
[8,[[28.5,.8],[28.5,1.6],[28.5,2.17],[30.7,2.99],[31.8,3.85],[33.7,5.48],[35.4,6.72],[38.4,7.37],[41.9,7.01],[46.3,7.11],[48.5,6.82],[50.7,5.67],[52.6,3.37],[53.1,1.31],[50,.8],[35,.8]]],
[9,[[34,2],[34.5,3.75],[35.4,5.29],[37,5.96],[38.6,6.03],[42.5,5.57],[46.3,5.81],[48.5,5.38],[50.4,3.85],[51.5,1.36],[45,.8]]],
[10,[[34.5,2],[34.8,3.37],[35.6,4.52],[37.3,5.29],[39.7,5],[43.3,5.19],[46.3,5.29],[48.5,4.71],[50.1,3.37],[50.7,1.36],[45,.8]]],
[11,[[35,2],[35.1,2.89],[36.2,4.23],[38.1,4.71],[42.5,4.62],[46.9,4.76],[49,3.56],[50.1,1.31],[45,.8]]],
[12,[[35.5,2],[35.6,2.51],[36.2,3.95],[37.5,4.43],[42.5,4.38],[46.9,4.52],[48.5,3.37],[49.6,1.31],[45,.8]]],
[13,[[36.7,1.5],[36.7,2.13],[37,3.28],[40.8,3.28],[44.1,3.18],[46.9,2.8],[47.7,1.55],[45,1]]],
[14,[[38.4,1.2],[38.4,1.74],[38.6,2.32],[41.4,2.65],[45.2,2.41],[46.9,1.93],[47.4,1.79],[46,1]]]
];
const contoursNorthAfrica102 = [
[1,[[-2,3],[-.5,3.47],[2.4,4.71],[6.4,5.38],[9.9,6.44],[13.4,7.87],[16.9,9.31],[20.9,10.56],[25.4,12],[26,12.6],[62,12.6],[62,-1],[-2,-1]]],
[2,[[4.9,-1],[4.9,.07],[5.4,.4],[3.9,.74],[2,2.13],[2.6,3.18],[5.4,4.14],[9.4,4.47],[11.9,4.52],[13.9,5.29],[17.4,6.25],[21.4,7.3],[24.4,8.54],[27.9,10.17],[31.5,12],[32,12.6],[62,12.6],[62,-1]]],
[3,[[8.6,-1],[8.6,.07],[8.9,.5],[7.1,1.07],[6.4,2.13],[7.4,3.08],[10.4,3.23],[13.4,3.23],[17.4,4.14],[19.9,5.48],[23.4,7.01],[26.9,9.12],[29.5,10.65],[33.5,11.7],[35.5,12],[37.5,11.88],[44.5,11.8],[50.5,11.5],[53,11.23],[62,10.8],[62,1.1],[60.5,1],[56,.64],[55.5,.5],[55,-1]]],
[4,[[23,1.6],[21.9,2.13],[20.4,2.41],[19.9,3.85],[20.9,5.29],[23.9,6.63],[27.4,8.35],[30,9.69],[32.5,10.36],[36.5,10.89],[40.5,11.03],[45.5,10.89],[53,10.55],[62,9.8],[62,2.3],[60.5,2.37],[56.5,1.65],[53.5,.88],[52,-.5],[30,-.5]]],
[5,[[28.7,1.5],[28.4,3.52],[26.4,3],[24,3.08],[22.9,3.85],[23.4,4.52],[25.4,5.48],[28.4,6.34],[30.2,8.16],[33.5,9.69],[37.5,10.22],[42,10.36],[48,10.22],[55.5,9.79],[60.5,8.93],[62,8.7],[62,3.3],[60.5,3.37],[57,2.8],[54,1.65],[52,1.2],[50,.8],[30,.8]]],
[6,[[30.7,5],[31.5,6.72],[33,8.35],[35.5,9.21],[38.5,9.79],[42,9.89],[48,9.69],[53,9.21],[57.5,8.54],[60.5,7.78],[62,7.6],[62,4.8],[60.5,4.9],[57.5,3.85],[54.5,3.28],[52,2.8],[51,2.13],[47.5,1.79],[43.5,1],[36,1.5],[35,3.28],[34,3.75],[31.5,4.71]]],
[7,[[37.5,2.08],[35.5,2.99],[33.5,4.04],[30.7,5],[32.2,6.05],[32.7,7.2],[35,8.45],[38,9.17],[40.5,9.45],[45.5,9.26],[50.5,8.93],[55.5,8.35],[59,7.01],[59,5.77],[57,4.81],[54,3.85],[52,3.18],[52,2.6],[50,2.08],[46.5,1.79],[43,1.7],[42,1.31],[38.5,1.5]]],
[8,[[40.7,3.2],[38.7,3.85],[37.7,5.48],[38,6.44],[40.5,7.3],[44,7.3],[46.5,6.53],[47,5.67],[45.5,4.52],[43,3.47]]]
];
const contoursMiddleEast102 = [
[1,[[-2,4.5],[-.3,5.38],[2.5,6.34],[5,7.01],[7,7.87],[7.5,9.12],[8.5,9.79],[11,10.17],[14,10.65],[16.5,11.32],[18.25,12],[18.5,12.6],[62,12.6],[62,-1],[-2,-1]]],
[2,[[-2,4],[-.3,4.4],[1.5,5.4],[5,6.2],[9,6.66],[12.5,6.72],[15,7.49],[17.5,8.35],[20.5,9.6],[24.5,10.56],[28.5,11.89],[29.25,12],[30,12.6],[47,12.6],[48,12],[50.5,11.8],[53,11.32],[62,10.5],[62,-1],[-2,-1]]],
[3,[[4.25,-1],[4.25,.07],[2.5,.59],[.5,1.65],[.5,2.8],[2.5,3.85],[4,4.71],[7.5,5.05],[13,5],[16,5.38],[19.5,6.72],[23,8.16],[26.5,9.72],[29.5,10.78],[33.5,11.8],[35.5,12],[38.5,11.9],[44.5,11.7],[50.5,11.42],[53,11.03],[62,10],[62,.95],[60.4,1.02],[55.5,.59],[55,-1]]],
[4,[[6.5,-.5],[6.4,1],[4.5,1.93],[3.75,2.8],[4.75,3.66],[7.5,4.09],[12,4.19],[17.5,4.19],[19.5,4.71],[22.5,5.96],[25.5,6.56],[28.5,8.45],[31,9.89],[35.5,10.94],[38.5,11.08],[42,11.08],[46.5,10.56],[53,9.79],[58,9.12],[60.4,8.35],[62,8],[62,1.7],[60.4,1.74],[56.5,1.31],[53.5,1],[52,-.5]]],
[5,[[8.25,-.5],[8.1,.59],[6.5,1.07],[5.75,2.41],[6.5,3.28],[9,3.71],[13,3.66],[17.5,3.75],[20,4.33],[23.5,5.38],[26.5,6.72],[29.5,7.97],[31.5,9.6],[34.5,10.27],[38,10.46],[42,10.5],[47,10.08],[53,9.31],[57,8.35],[60.4,7.2],[62,7],[62,1.85],[60.4,1.78],[55,1.26],[53.5,1],[52,-.5]]],
[4,[[30.6,2],[30.5,3.1],[32,3.8],[33,3.8],[34,3.4],[33,2.5]]],
[4,[[26.8,2.1],[27,2.6],[28.2,2.7],[28.7,2.1]]],
[6,[[10,-.3],[10.5,.59],[8.5,.93],[7.5,1.46],[6.5,2.41],[7.5,2.99],[10.5,3.23],[15.5,3.08],[19,2.99],[21.5,3.85],[24.5,5.1],[28.5,6.34],[30,7.97],[32,9.12],[35,9.7],[38.5,9.98],[42,9.79],[47,8.93],[52.5,7.77],[56.5,6.25],[57.75,4.81],[58,3.18],[56.5,2.8],[55.5,2.03],[52.5,1.74],[46.5,1.7],[42,1],[37,1.5],[36.5,2.8],[35.5,3.08],[34,4.04],[31.5,4.86],[29,3.85],[27.5,2.8],[23.5,1.93],[19.5,1.46],[18.5,.8],[17,.3]]],
[7,[[10,2.65],[13.5,2.62],[16.5,2.41],[18,1.93],[17.5,1.26],[15,.83],[11.5,.79],[9.25,1.07],[8,1.74],[8.25,2.32]]],
[7,[[21.75,3.18],[22.5,4.04],[25.5,4.86],[27.25,4.71],[27.5,3.66],[26,2.8],[23.5,2.56],[22,2.7]]],
[7,[[31.75,6.63],[32.75,7.59],[35,8.83],[37.5,9.41],[40,9.55],[44,9.12],[48.5,8.07],[51.5,6.63],[53.75,4.52],[53.75,3.56],[52.25,2.51],[50,2.13],[45.5,1.84],[42.5,1.6],[41.75,1.26],[38.5,1.55],[37.5,2.22],[36,3.37],[33.75,4.9],[32,6.05]]],
[8,[[38.9,6.1],[40,6.58],[41,6.34],[41.9,5.48],[41.5,4.71],[40.5,4.62],[39.4,5],[38.9,5.67]]]
];

/* ---------- page geometry ---------- */
const colLefts = [190.6,839.5,1488];
const rowTops = [64.2,717.3,1370.4];
const plotW = 511, plotH = 511.5;
const latMin = -0.5, latMax = 60.5, altMin = 0, altMax = 12;
const pxPerWindUnit = 22.25;

const rowTerrain = [terrain75,terrain90,terrain102];
const rowWind = [
  [wind75Lat,wind75Alt,wind75U,wind75W],
  [wind90Lat,wind90Alt,wind90U,wind90W],
  [wind102Lat,wind102Alt,wind102U,wind102W]
];
const panelContours = [
  [contoursEastAsia75,contoursNorthAfrica75,contoursMiddleEast75],
  [contoursEastAsia90,contoursNorthAfrica90,contoursMiddleEast90],
  [contoursEastAsia102,contoursNorthAfrica102,contoursMiddleEast102]
];

const svgNS = 'http://www.w3.org/2000/svg';
const root = document.getElementById('chart');
function make(tag, attrs, parent){
  const el = document.createElementNS(svgNS, tag);
  for (const k in attrs) el.setAttribute(k, attrs[k]);
  (parent || root).appendChild(el);
  return el;
}
function xScale(left){ return lat => left + (lat - latMin) * plotW / (latMax - latMin); }
function yScale(top){ return alt => top + plotH - (alt - altMin) * plotH / (altMax - altMin); }

/* writes "10°N" as digits, a small raised degree sign and a spaced letter */
function degreeText(el, text, degSize, raise, gap){
  const parts = text.split('°');
  el.appendChild(document.createTextNode(parts[0]));
  if (parts.length < 2) return;
  const deg = make('tspan', {'font-size':degSize, dy:-raise, dx:1}, el);
  deg.textContent = '°';
  const tail = make('tspan', {dy:raise, dx:gap}, el);
  tail.textContent = parts[1];
}

function smoothRing(pts){
  const n = pts.length;
  let d = 'M' + pts[0][0].toFixed(1) + ' ' + pts[0][1].toFixed(1);
  function limit(tx, ty, len){
    const m = Math.hypot(tx, ty), cap = len * 0.36;
    return m > cap && m > 0 ? [tx * cap / m, ty * cap / m] : [tx, ty];
  }
  for (let i = 0; i < n; i++){
    const p0 = pts[(i - 1 + n) % n], p1 = pts[i], p2 = pts[(i + 1) % n], p3 = pts[(i + 2) % n];
    const len = Math.hypot(p2[0] - p1[0], p2[1] - p1[1]);
    const a = limit((p2[0] - p0[0]) / 6, (p2[1] - p0[1]) / 6, len);
    const b = limit((p3[0] - p1[0]) / 6, (p3[1] - p1[1]) / 6, len);
    d += 'C' + (p1[0] + a[0]).toFixed(1) + ' ' + (p1[1] + a[1]).toFixed(1) + ' ' +
         (p2[0] - b[0]).toFixed(1) + ' ' + (p2[1] - b[1]).toFixed(1) + ' ' +
         p2[0].toFixed(1) + ' ' + p2[1].toFixed(1);
  }
  return d + 'Z';
}

function arrowPath(tx, ty, hx, hy){
  const len = Math.hypot(hx - tx, hy - ty);
  if (len < 0.01) return '';
  const ux = (hx - tx) / len, uy = (hy - ty) / len;
  const headLen = Math.min(30, 5 + 0.19 * len);
  const headHalf = 0.37 * headLen;
  const bx = hx - ux * headLen, by = hy - uy * headLen;
  const nx = hx - ux * headLen * 0.6, ny = hy - uy * headLen * 0.6;
  const f = v => v.toFixed(1);
  return 'M' + f(tx) + ' ' + f(ty) + 'L' + f(hx) + ' ' + f(hy) +
         'M' + f(hx) + ' ' + f(hy) + 'L' + f(bx - uy * headHalf) + ' ' + f(by + ux * headHalf) +
         'L' + f(nx) + ' ' + f(ny) + 'L' + f(bx + uy * headHalf) + ' ' + f(by - ux * headHalf) + 'Z';
}

const defs = make('defs', {});
rowTops.forEach(function(top, r){
  colLefts.forEach(function(left, c){
    const x = xScale(left), y = yScale(top);
    const clip = make('clipPath', {id:'clip-' + r + '-' + c}, defs);
    make('rect', {x:left, y:top, width:plotW, height:plotH}, clip);

    const panel = make('g', {});
    
    

    make('rect', {x:left, y:top, width:plotW, height:plotH, fill:'#fff'}, panel);

    const inner = make('g', {'clip-path':'url(#clip-' + r + '-' + c + ')'}, panel);

    /* contour bands */
    panelContours[r][c].forEach(function(entry){
      const band = entry[0];
      const pts = entry[1].map(p => [x(p[0]), y(p[1])]);
      const shape = make('path', {d:smoothRing(pts), fill:legendColors[band]}, inner);
      
      
    });

    /* terrain */
    const heights = rowTerrain[r];
    let td = 'M' + x(latMin).toFixed(1) + ' ' + y(0).toFixed(1);
    heights.forEach(function(h, i){
      td += 'L' + x(i - 0.5).toFixed(1) + ' ' + y(h).toFixed(1) + 'L' + x(i + 0.5).toFixed(1) + ' ' + y(h).toFixed(1);
    });
    td += 'L' + x(latMax).toFixed(1) + ' ' + y(0).toFixed(1) + 'Z';
    const terrainShape = make('path', {d:td, fill:'#929292'}, inner);
    
    

    /* wind arrows */
    const w = rowWind[r];
    w[0].forEach(function(lat, i){
      const tx = x(lat), ty = y(w[1][i]);
      const hx = tx + w[2][i] * pxPerWindUnit, hy = ty - w[3][i] * pxPerWindUnit;
      const arrow = make('path', {d:arrowPath(tx, ty, hx, hy), fill:'none', stroke:'#000', 'stroke-width':1.7, 'stroke-linejoin':'miter'}, inner);
      
      
    });

    /* reference vector box */
    const keyLeft = left + plotW - 61.5;
    const keyGroup = make('g', {}, panel);
    
    
    make('rect', {x:keyLeft, y:top + 0.5, width:61.5, height:101, fill:'#fff', stroke:'#000', 'stroke-width':1.7}, keyGroup);
    const keyText = make('text', {x:keyLeft + 31, y:top + 36.5, 'font-size':37, 'text-anchor':'middle'}, keyGroup);
    keyText.textContent = String(referenceWind);
    make('path', {d:arrowPath(keyLeft + 8.6, top + 64.6, keyLeft + 8.6 + referenceWind * pxPerWindUnit, top + 64.6), fill:'none', stroke:'#000', 'stroke-width':1.7}, keyGroup);

    /* frame and ticks */
    make('rect', {x:left, y:top, width:plotW, height:plotH, fill:'none', stroke:'#000', 'stroke-width':1.6}, panel);
    latTicks.forEach(function(lat, i){
      const tick = make('line', {x1:x(lat), x2:x(lat), y1:top + plotH, y2:top + plotH + 13.5, stroke:'#000', 'stroke-width':1.6}, panel);
      
      
      const label = make('text', {x:i === 0 ? x(lat) : x(lat) - 5, y:top + plotH + 67.5, 'font-size':36.5, 'text-anchor':'middle'}, panel);
      
      
      degreeText(label, latTickLabels[i], 22, 10, 3);
    });
    latMinorTicks.forEach(function(lat){
      make('line', {x1:x(lat), x2:x(lat), y1:top + plotH, y2:top + plotH + 7, stroke:'#000', 'stroke-width':1.6}, panel);
    });
    altTicks.forEach(function(alt, i){
      const tick = make('line', {x1:left - 14, x2:left, y1:y(alt), y2:y(alt), stroke:'#000', 'stroke-width':1.6}, panel);
      
      
      const label = make('text', {x:left - 40, y:y(alt) + 12.6, 'font-size':35.5, 'text-anchor':'end'}, panel);
      
      
      label.textContent = altTickLabels[i];
    });
    altMinorTicks.forEach(function(alt){
      make('line', {x1:left - 7, x2:left, y1:y(alt), y2:y(alt), stroke:'#000', 'stroke-width':1.6}, panel);
    });

    /* column titles and row labels */
    if (r === 0){
      const cx = c === 2 ? 1733.5 : left + plotW / 2 + 1;
      const title = make('text', {x:cx, y:36, 'font-size':49.8, 'text-anchor':'middle'});
      
      
      title.textContent = regionNames[c];
    }
    if (c === 0){
      const cy = top + plotH / 2;
      const section = make('text', {transform:'translate(37,' + cy + ') rotate(-90)', 'font-size':50, 'text-anchor':'middle'});
      
      
      degreeText(section, sectionNames[r], 30, 14, 7);
      const yTitle = make('text', {transform:'translate(99,' + (cy + 3) + ') rotate(-90)', 'font-size':49.8, 'text-anchor':'middle'});
      
      
      yTitle.textContent = 'Altitude [km]';
    }
  });
});

/* ---------- colour bar ---------- */
const barLeft = 370.5, barRight = 1757, barTop = 1978.5, barBottom = 2019;
const barStep = (barRight - barLeft) / legendColors.length;
const legend = make('g', {});


legendColors.forEach(function(color, i){
  const box = make('rect', {x:barLeft + i * barStep, y:barTop, width:barStep, height:barBottom - barTop, fill:color, stroke:'#000', 'stroke-width':1.6}, legend);
  
  
});
make('rect', {x:barLeft, y:barTop, width:barRight - barLeft, height:barBottom - barTop, fill:'none', stroke:'#000', 'stroke-width':2.4}, legend);
legendLabels.forEach(function(text, i){
  const label = make('text', {x:barLeft + (i + 1) * barStep, y:2063, 'font-size':42, 'text-anchor':'middle'}, legend);
  
  
  label.textContent = text;
});
const barTitle = make('text', {x:708, y:2120, 'font-size':49.4}, legend);


barTitle.appendChild(document.createTextNode('Dust mass concentration [ug'));
const unitM = make('tspan', {dx:6}, barTitle);
unitM.textContent = 'm';
const unitExp = make('tspan', {dy:-19, 'font-size':33, dx:3}, barTitle);
unitExp.textContent = '-3';
const unitEnd = make('tspan', {dy:19}, barTitle);
unitEnd.textContent = ']';
</script>
</body>
</html>
